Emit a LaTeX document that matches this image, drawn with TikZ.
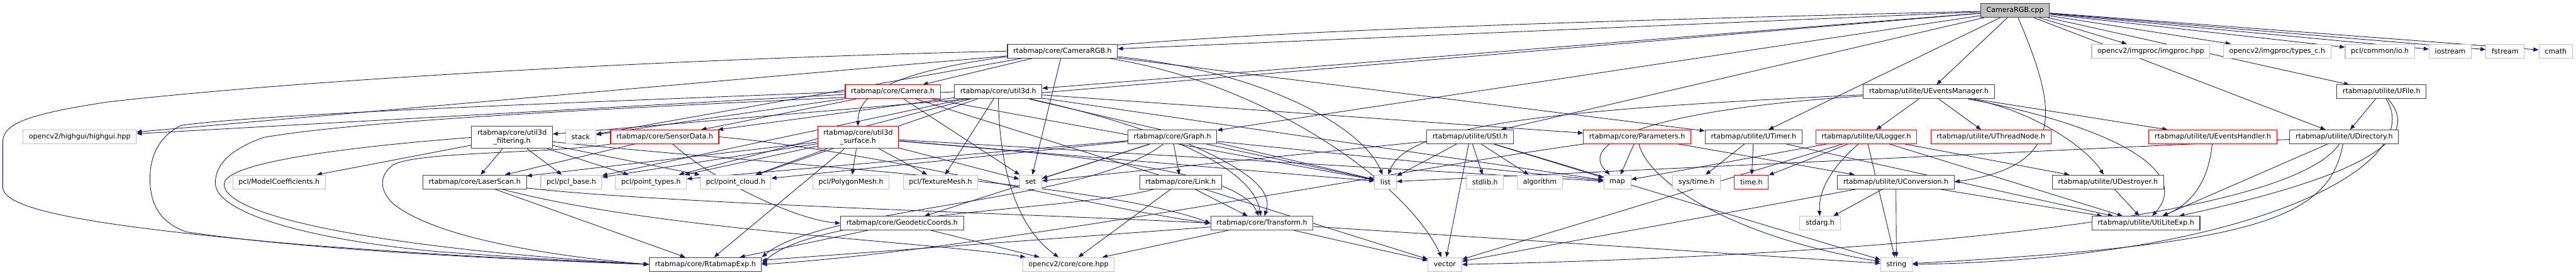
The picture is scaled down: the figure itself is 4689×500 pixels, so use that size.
\documentclass[tikz,border=0pt]{standalone}
\usepackage{fontspec}
\setsansfont{DejaVu Sans}
\usepackage{xcolor}
\definecolor{edgeblue}{RGB}{25,25,112}
\definecolor{sysgray}{RGB}{191,191,191}
\definecolor{docgray}{RGB}{64,64,64}
\usepackage{tikz}
\usetikzlibrary{arrows.meta, backgrounds}

\begin{document}
\begin{tikzpicture}[
    x=0.75pt, y=-0.75pt,
    hdr/.style={
        rectangle, draw=docgray, fill=white, line width=0.9pt,
        minimum height=18.75pt, inner xsep=7.9pt, inner ysep=1pt,
        align=center, font=\sffamily\fontsize{9.5pt}{11.25pt}\selectfont
    },
    cut/.style={hdr, draw=red},
    sys/.style={hdr, draw=sysgray},
    src/.style={hdr, fill=sysgray},
    two/.style={minimum height=30pt},
    arr/.style={-{Triangle[length=7pt,width=5.5pt]}, draw=edgeblue, line width=0.75pt}
]
    \useasboundingbox (0,0) rectangle (4689,500);

    % source file
    \node[src] (root) at (3668,19) {CameraRGB.cpp};

    % first level
    \node[hdr] (crgbh)    at (1934,93) {rtabmap/core/CameraRGB.h};
    \node[sys] (imgproc)  at (3915,93) {opencv2/imgproc/imgproc.hpp};
    \node[sys] (typesc)   at (4145,93) {opencv2/imgproc/types\_c.h};
    \node[sys] (pclio)    at (4332,93) {pcl/common/io.h};
    \node[sys] (iostream) at (4460,93) {iostream};
    \node[sys] (fstream)  at (4560,93) {fstream};
    \node[sys] (cmath)    at (4652,93) {cmath};

    \node[cut] (camera) at (1625,167) {rtabmap/core/Camera.h};
    \node[hdr] (utild)  at (1817,167) {rtabmap/core/util3d.h};
    \node[hdr] (uevm)   at (3511,167) {rtabmap/utilite/UEventsManager.h};
    \node[hdr] (ufile)  at (4335,167) {rtabmap/utilite/UFile.h};

    \node[sys] (highgui) at (145,249)  {opencv2/highgui/highgui.hpp};
    \node[hdr, two] (ufilt) at (932,250) {rtabmap/core/util3d\\\_filtering.h};
    \node[sys] (stack)   at (1057,249) {stack};
    \node[cut] (sensor)  at (1210,249) {rtabmap/core/SensorData.h};
    \node[cut, two] (usurf) at (1562,250) {rtabmap/core/util3d\\\_surface.h};
    \node[hdr] (graph)   at (2134,249) {rtabmap/core/Graph.h};
    \node[hdr] (ustl)    at (2676,249) {rtabmap/utilite/UStl.h};
    \node[cut] (params)  at (2980,249) {rtabmap/core/Parameters.h};
    \node[hdr] (utimer)  at (3192,249) {rtabmap/utilite/UTimer.h};
    \node[cut] (ulog)    at (3397,249) {rtabmap/utilite/ULogger.h};
    \node[cut] (uthread) at (3624,249) {rtabmap/utilite/UThreadNode.h};
    \node[cut] (uevh)    at (4028,249) {rtabmap/utilite/UEventsHandler.h};
    \node[hdr] (udir)    at (4267,249) {rtabmap/utilite/UDirectory.h};

    \node[sys] (modelc)    at (508,331)  {pcl/ModelCoefficients.h};
    \node[hdr] (laser)     at (864,331)  {rtabmap/core/LaserScan.h};
    \node[sys] (pclbase)   at (1040,331) {pcl/pcl\_base.h};
    \node[sys] (ptypes)    at (1185,331) {pcl/point\_types.h};
    \node[sys] (pcloud)    at (1339,331) {pcl/point\_cloud.h};
    \node[sys] (polymesh)  at (1549,331) {pcl/PolygonMesh.h};
    \node[sys] (texmesh)   at (1712,331) {pcl/TextureMesh.h};
    \node[sys] (set)       at (1876,331) {set};
    \node[hdr] (link)      at (2149,331) {rtabmap/core/Link.h};
    \node[sys] (list)      at (2522,331) {list};
    \node[sys] (stdlib)    at (2703,331) {stdlib.h};
    \node[sys] (algorithm) at (2803,331) {algorithm};
    \node[sys] (map)       at (2944,331) {map};
    \node[sys] (systime)   at (3088,331) {sys/time.h};
    \node[cut] (timeh)     at (3188,331) {time.h};
    \node[hdr] (uconv)     at (3451,331) {rtabmap/utilite/UConversion.h};
    \node[hdr] (udestroy)  at (3837,331) {rtabmap/utilite/UDestroyer.h};

    \node[hdr] (geo)       at (1642,406) {rtabmap/core/GeodeticCoords.h};
    \node[cut] (transform) at (2297,406) {rtabmap/core/Transform.h};
    \node[sys] (stdarg)    at (3313,406) {stdarg.h};
    \node[hdr] (uexp)      at (3906,406) {rtabmap/utilite/UtiLiteExp.h};

    \node[hdr] (rexp)   at (1284,481) {rtabmap/core/RtabmapExp.h};
    \node[sys] (cvcore) at (1945,481) {opencv2/core/core.hpp};
    \node[sys] (vector) at (2630,481) {vector};
    \node[sys] (string) at (3452,481) {string};

    \begin{scope}[on background layer]
    % includes of the source file
    \draw[arr] (root) -- (crgbh);
    \draw[arr] (root) -- (graph);
    \draw[arr] (root) -- (utild);
    \draw[arr] (root) .. controls (2000,60) and (1560,90) .. (usurf);
    \draw[arr] (root) -- (ufilt);
    \draw[arr] (root) -- (ustl);
    \draw[arr] (root) -- (utimer);
    \draw[arr] (root) -- (uevm);
    \draw[arr] (root) .. controls (3740,190) and (3770,300) .. (uconv.east);
    \draw[arr] (root) -- (ufile);
    \draw[arr] (root) -- (udir);
    \draw[arr] (root) -- (imgproc);
    \draw[arr] (root) -- (typesc);
    \draw[arr] (root) -- (pclio);
    \draw[arr] (root) -- (iostream);
    \draw[arr] (root) -- (fstream);
    \draw[arr] (root) -- (cmath);

    % CameraRGB.h
    \draw[arr] (crgbh) -- (camera);
    \draw[arr] (crgbh) -- (set);
    \draw[arr] (crgbh) -- (highgui);
    \draw[arr] (crgbh) -- (stack);
    \draw[arr] (crgbh) .. controls (2300,130) and (2480,230) .. (list);
    \draw[arr] (crgbh) .. controls (2300,150) and (2560,330) .. (vector);
    \draw[arr] (crgbh) -- (utimer);
    \draw[arr] (crgbh.west) .. controls (1300,105) and (600,140) .. (200,185)
        .. controls (30,210) and (5,230) .. (5,260) -- (5,340)
        .. controls (5,380) and (150,410) .. (550,445)
        .. controls (850,468) and (1050,476) .. (rexp.west);

    % Camera.h
    \draw[arr] (camera) -- (highgui);
    \draw[arr] (camera) -- (sensor);
    \draw[arr] (camera) -- (set);
    \draw[arr] (camera) -- (stack);
    \draw[arr] (camera) -- (list);
    \draw[arr] (camera) -- (vector);
    \draw[arr] (camera.west) .. controls (1100,185) and (500,205) .. (330,228)
        .. controls (285,250) and (273,290) .. (273,325)
        .. controls (273,370) and (290,405) .. (340,422)
        .. controls (600,460) and (1000,474) .. (rexp.west);

    % util3d.h
    \draw[arr] (utild) .. controls (1820,330) and (1860,420) .. (cvcore);
    \draw[arr] (utild) -- (texmesh);
    \draw[arr] (utild) .. controls (2100,230) and (2280,300) .. (transform);
    \draw[arr] (utild) -- (sensor);
    \draw[arr] (utild) -- (params);
    \draw[arr] (utild) -- (pcloud);
    \draw[arr] (utild) -- (ptypes);
    \draw[arr] (utild) -- (pclbase);
    \draw[arr] (utild) -- (list);
    \draw[arr] (utild) -- (map);
    \draw[arr] (utild.west) .. controls (1300,190) and (700,212) .. (480,250)
        .. controls (410,275) and (392,305) .. (392,333)
        .. controls (392,385) and (550,435) .. (800,458)
        .. controls (1000,472) .. (rexp.west);

    % util3d_filtering.h
    \draw[arr] (ufilt) -- (laser);
    \draw[arr] (ufilt) -- (pclbase);
    \draw[arr] (ufilt) -- (ptypes);
    \draw[arr] (ufilt) -- (modelc);
    \draw[arr] (ufilt) -- (pcloud);
    \draw[arr] (ufilt) .. controls (1400,300) and (2000,330) .. (transform.west);
    \draw[arr] (ufilt.west) .. controls (700,262) and (408,290) .. (408,335)
        .. controls (408,395) and (700,452) .. (rexp.west);

    % util3d_surface.h
    \draw[arr] (usurf) -- (polymesh);
    \draw[arr] (usurf) -- (texmesh);
    \draw[arr] (usurf) -- (set);
    \draw[arr] (usurf) -- (rexp);
    \draw[arr] (usurf) -- (ptypes);
    \draw[arr] (usurf) -- (pcloud);
    \draw[arr] (usurf) -- (pclbase);
    \draw[arr] (usurf) -- (laser);
    \draw[arr] (usurf) .. controls (1900,280) and (2250,300) .. (transform);
    \draw[arr] (usurf) -- (list);
    \draw[arr] (usurf) -- (map);

    % SensorData.h
    \draw[arr] (sensor) -- (laser);
    \draw[arr] (sensor.east) .. controls (1600,275) and (2000,380) .. (transform.west);
    \draw[arr] (sensor) .. controls (1300,330) and (1450,400) .. (geo.west);
    \draw[arr] (sensor.south west) .. controls (1000,280) and (760,275) .. (715,300)
        .. controls (690,320) and (690,345) .. (715,370)
        .. controls (800,440) and (1050,470) .. (rexp.west);

    % LaserScan.h, Graph.h, Link.h, GeodeticCoords.h, Transform.h
    \draw[arr] (laser) -- (rexp);
    \draw[arr] (laser) .. controls (1200,370) and (1900,390) .. (transform.west);
    \draw[arr] (laser) .. controls (1200,420) and (1700,440) .. (cvcore);
    \draw[arr] (graph) -- (link);
    \draw[arr] (graph) .. controls (1980,370) and (1500,375) .. (rexp.north east);
    \draw[arr] (graph) .. controls (2250,300) and (2320,340) .. (transform);
    \draw[arr] (graph) -- (geo);
    \draw[arr] (graph) -- (list);
    \draw[arr] (graph) -- (map);
    \draw[arr] (graph) -- (set);
    \draw[arr] (graph) -- (ptypes);
    \draw[arr] (graph) -- (pcloud);
    \draw[arr] (link) -- (transform);
    \draw[arr] (link) -- (cvcore);
    \draw[arr] (link) .. controls (1950,385) and (1480,385) .. (rexp.east);
    \draw[arr] (geo) -- (cvcore);
    \draw[arr] (geo) -- (rexp);
    \draw[arr] (transform) -- (rexp);
    \draw[arr] (transform) -- (cvcore);
    \draw[arr] (transform) -- (vector);
    \draw[arr] (transform) -- (string);

    % UStl.h and Parameters.h
    \draw[arr] (ustl) -- (list);
    \draw[arr] (ustl) -- (vector);
    \draw[arr] (ustl) -- (stdlib);
    \draw[arr] (ustl) -- (algorithm);
    \draw[arr] (ustl) -- (map);
    \draw[arr] (ustl) -- (set);
    \draw[arr] (ustl) -- (string);
    \draw[arr] (params) -- (map);
    \draw[arr] (params) .. controls (3000,330) and (3150,430) .. (string);
    \draw[arr] (params) .. controls (2600,300) and (1800,455) .. (rexp.east);
    \draw[arr] (params) -- (uconv);

    % UTimer.h, ULogger.h, UConversion.h
    \draw[arr] (utimer) -- (timeh);
    \draw[arr] (utimer) -- (systime);
    \draw[arr] (utimer) -- (uexp);
    \draw[arr] (ulog) -- (timeh);
    \draw[arr] (ulog) .. controls (3340,300) and (3310,340) .. (stdarg);
    \draw[arr] (ulog) -- (uexp);
    \draw[arr] (ulog) -- (udestroy);
    \draw[arr] (ulog) -- (string);
    \draw[arr] (ulog) -- (map);
    \draw[arr] (ulog) -- (vector);
    \draw[arr] (uconv) -- (uexp);
    \draw[arr] (uconv) -- (stdarg);
    \draw[arr] (uconv) -- (string);
    \draw[arr] (uconv) -- (vector);

    % UEventsManager.h and the rest of utilite
    \draw[arr] (uevm) -- (uevh);
    \draw[arr] (uevm) -- (uthread);
    \draw[arr] (uevm) -- (ulog);
    \draw[arr] (uevm) .. controls (3700,200) and (3800,270) .. (udestroy);
    \draw[arr] (uevm) .. controls (3800,220) and (4000,300) .. (uexp);
    \draw[arr] (uevm) .. controls (2800,200) and (2560,230) .. (list);
    \draw[arr] (uevm) .. controls (3000,200) and (2870,260) .. (map);
    \draw[arr] (uevh) .. controls (4020,330) and (3990,370) .. (uexp);
    \draw[arr] (udestroy) -- (uexp);
    \draw[arr] (ufile) -- (udir);
    \draw[arr] (ufile) .. controls (4400,240) and (4350,310) .. (uexp);
    \draw[arr] (ufile) .. controls (4420,300) and (4100,470) .. (string.east);
    \draw[arr] (udir) -- (uexp);
    \draw[arr] (udir) .. controls (4240,400) and (4100,445) .. (string);
    \draw[arr] (udir) .. controls (4150,420) and (3200,470) .. (vector.east);
    \draw[arr] (udir) -- (list);
    \end{scope}
\end{tikzpicture}
\end{document}
